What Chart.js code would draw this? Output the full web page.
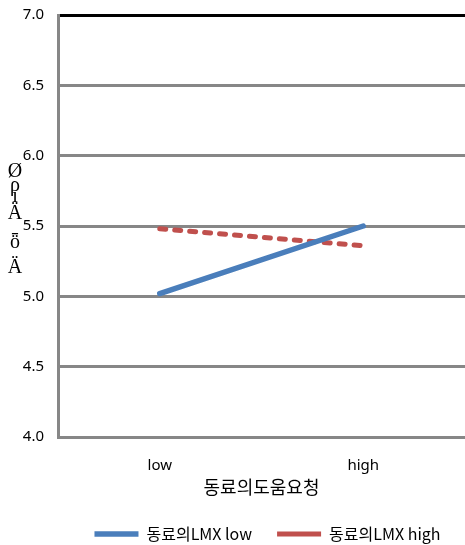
<!DOCTYPE html>
<html>
<head>
<meta charset="utf-8">
<script src="https://cdn.jsdelivr.net/npm/chart.js@4"></script>
<style>
  html, body { margin: 0; padding: 0; background: #fff; }
  #wrap { width: 465px; height: 545px; }
</style>
</head>
<body>
<div id="wrap"><canvas id="chart"></canvas></div>
<script>
// données
const categories = ['low', 'high']
const lmxLow = [5.02, 5.50]
const lmxHigh = [5.48, 5.36]
const yTicks = [4.0, 4.5, 5.0, 5.5, 6.0, 6.5, 7.0]
const xTitle = '동료의도움요청'
// titre de l'axe y (caractères cassés comme sur l'original)
const yTitleChars = ['Ø', 'ρ', 'ı', 'Ä', 'ȫ', 'Ä']
const yTitleOffsets = [0, 14, 25, 42, 71, 96]

// plugin pour écrire le titre y en vertical, lettre par lettre
const yTitlePlugin = {
  id: 'yTitle',
  afterLayout(chart) {
    // la légende d'Excel est un peu décalée vers la droite et le bas
    const lg = chart.legend
    if (lg) {
      lg.left += 35
      lg.right += 35
      lg.top += 7
      lg.bottom += 7
    }
  },
  afterDraw(chart) {
    const ctx = chart.ctx
    ctx.save()
    ctx.fillStyle = '#000'
    ctx.font = '20px "Liberation Serif", "DejaVu Serif", serif'
    ctx.textAlign = 'center'
    ctx.textBaseline = 'middle'
    const top = chart.chartArea.top + 157
    yTitleChars.forEach((c, i) => {
      ctx.fillText(c, 15, top + yTitleOffsets[i])
    })
    ctx.restore()
  }
}

new Chart(document.getElementById('chart'), {
  type: 'line',
  data: {
    labels: categories,
    datasets: [{
      label: '동료의LMX low',
      data: lmxLow,
      borderColor: '#4a7ebb',
      backgroundColor: '#4a7ebb',
      borderWidth: 5.5,
      borderCapStyle: 'round',
      pointRadius: 0,
      pointStyle: 'line',
      tension: 0
    }, {
      label: '동료의LMX high',
      data: lmxHigh,
      borderColor: '#c0504d',
      backgroundColor: '#c0504d',
      borderWidth: 5,
      borderDash: [6, 9],
      borderCapStyle: 'round',
      pointRadius: 0,
      pointStyle: 'line',
      tension: 0
    }]
  },
  options: {
    responsive: true,
    maintainAspectRatio: false,
    animation: false,
    layout: { padding: { top: 15, right: 0, left: 0, bottom: 0 } },
    plugins: {
      tooltip: { enabled: false },
      legend: {
        position: 'bottom',
        labels: {
          usePointStyle: true,
          pointStyleWidth: 44,
          boxHeight: 16,
          padding: 25,
          color: '#000',
          font: { family: '"Noto Sans CJK KR", "Noto Sans", sans-serif', size: 16 }
        }
      }
    },
    scales: {
      x: {
        type: 'category',
        offset: true,
        grid: { display: false, drawTicks: false },
        border: { display: false },
        afterFit(scale) {
          scale.height = 57
        },
        ticks: {
          color: '#000',
          padding: 20,
          font: { family: '"Noto Sans", sans-serif', size: 15 }
        },
        title: {
          display: true,
          text: xTitle,
          color: '#000',
          padding: { top: 0, bottom: -4 },
          font: { family: '"Noto Sans CJK KR", sans-serif', size: 18 }
        }
      },
      y: {
        min: 4,
        max: 7,
        afterBuildTicks(scale) {
          scale.ticks = yTicks.map(v => ({ value: v }))
        },
        afterFit(scale) {
          scale.width = 58
          scale.paddingTop = 0
          scale.paddingBottom = 0
        },
        grid: {
          drawTicks: false,
          lineWidth: 3,
          color: ctx => ctx.tick && ctx.tick.value === 7 ? '#000' : '#878787'
        },
        border: { color: '#878787', width: 3 },
        ticks: {
          color: '#000',
          padding: 14,
          callback: v => Number(v).toFixed(1),
          font: { family: '"Noto Sans", sans-serif', size: 15 }
        }
      }
    }
  },
  plugins: [yTitlePlugin]
})
</script>
</body>
</html>
